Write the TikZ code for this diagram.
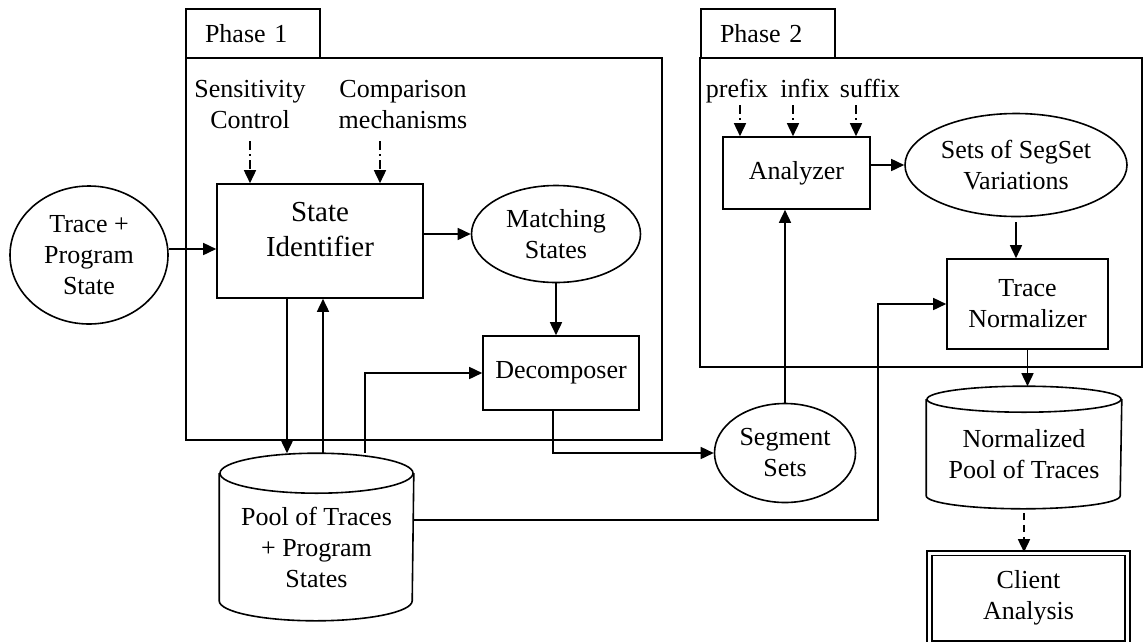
\documentclass[tikz,border=0pt]{standalone}
\usepackage{fontspec}
\setmainfont{Liberation Serif}
\usetikzlibrary{arrows.meta,shapes.geometric}

% cylinder outline round a node: node, x radius, y radius
\newcommand{\drawstore}[3]{%
  \draw ([yshift=-#3]#1.north) ellipse [x radius=#2, y radius=#3];
  \draw ([yshift=-#3]#1.north west) -- ([yshift=#3]#1.south west)
    arc [start angle=180, end angle=360, x radius=#2, y radius=#3]
    -- ([yshift=-#3]#1.north east);}

\begin{document}
\begin{tikzpicture}[x=1pt, y=-1pt, line width=1.6pt,
    every node/.style={font=\fontsize{26}{31}\selectfont, align=center, inner sep=0pt},
    box/.style={draw, rectangle},
    tab/.style={draw, rectangle, minimum width=134pt, minimum height=49pt, text width=96pt, align=left},
    blob/.style={draw, ellipse},
    store/.style={rectangle},
    arr/.style={-{Triangle[length=13pt,width=12pt]}},
    hint/.style={arr, dash pattern=on 9pt off 4pt on 2pt off 4pt},
    dasharr/.style={arr, dash pattern=on 7pt off 5pt}
]
  \useasboundingbox (0,0) rectangle (1144,641);

  % Phase frames
  \node[tab] (tabA) at (253,33.5) {Phase 1};
  \node[draw, minimum width=476pt, minimum height=382pt] (phaseA) at (424,249) {};
  \node[tab] (tabB) at (768,33.5) {Phase 2};
  \node[draw, minimum width=442pt, minimum height=309pt] (phaseB) at (921,212.5) {};

  % Phase 1
  \node[blob, minimum width=158pt, minimum height=138pt] (trace) at (89,255) {Trace +\\Program\\State};
  \node[box, minimum width=206pt, minimum height=114pt] (stateid) at (320,241) {};
  \node[anchor=north, font=\fontsize{29}{35}\selectfont] (stateidtext) at ([yshift=-18pt]stateid.north) {State\\Identifier};
  \node (sens) at (250,105) {Sensitivity\\Control};
  \node (comp) at (403,105) {Comparison\\mechanisms};
  \node[blob, minimum width=169pt, minimum height=97pt] (match) at (556,234) {Matching\\States};
  \node[box, minimum width=156pt, minimum height=74pt] (decomp) at (561,373) {Decomposer};
  \node[store, minimum width=193pt, minimum height=166pt] (pool) at (316.5,537) {};
  \node (pooltext) at (316.5,547) {Pool of Traces\\+ Program\\States};
  \drawstore{pool}{96.5pt}{20pt}
  \node[blob, minimum width=141pt, minimum height=99pt] (segsets) at (785,453) {Segment\\Sets};

  % Phase 2
  \node[anchor=base] (prefix) at (737,97) {prefix};
  \node[anchor=base] (infix) at (805,97) {infix};
  \node[anchor=base] (suffix) at (870,97) {suffix};
  \node[box, minimum width=147pt, minimum height=72pt] (analyzer) at (796.5,173) {Analyzer};
  \node[blob, minimum width=222pt, minimum height=103pt] (variations) at (1016,165) {Sets of SegSet\\Variations};
  \node[box, minimum width=161pt, minimum height=90pt] (normalizer) at (1027.5,304) {Trace\\Normalizer};
  \node[store, minimum width=194pt, minimum height=121pt] (normpool) at (1024,447.5) {};
  \node (normpooltext) at (1024,454) {Normalized\\Pool of Traces};
  \drawstore{normpool}{97pt}{13pt}
  \node[box, double, double distance=3pt, minimum width=198pt, minimum height=90pt] (client) at (1028.5,598) {Client\\Analysis};

  % Connectors
  \draw[arr] ([yshift=6pt]trace.east) -- ([yshift=6pt]trace.east -| stateid.west);
  \draw[hint] ([yshift=-11pt]sens.south) -- (sens.south |- stateid.north);
  \draw[hint] ([shift={(-23pt,-11pt)}]comp.south) -- ([xshift=-23pt]comp.south |- stateid.north);
  \draw[arr] (match.west -| stateid.east) -- (match.west);
  \draw[arr] (match.south) -- (match.south |- decomp.north);
  \draw[arr] ([xshift=-33pt]stateid.south) -- ([xshift=-33pt]stateid.south |- pool.north);
  \draw[arr] ([xshift=3pt]stateid.south |- pool.north) -- ([xshift=3pt]stateid.south);
  \draw[arr] ([xshift=48.5pt]pool.north) |- (decomp.west);
  \draw[arr] ([xshift=-8pt]decomp.south) |- (segsets.west);
  \draw[arr] (segsets.north) -- (segsets.north |- analyzer.south);
  \draw[hint] ([shift={(3pt,-8pt)}]prefix.base) -- ([xshift=3pt]prefix.base |- analyzer.north);
  \draw[hint] ([shift={(-12pt,-8pt)}]infix.base) -- ([xshift=-12pt]infix.base |- analyzer.north);
  \draw[hint] ([shift={(-14pt,-8pt)}]suffix.base) -- ([xshift=-14pt]suffix.base |- analyzer.north);
  \draw[arr] (variations.west -| analyzer.east) -- (variations.west);
  \draw[arr] ([yshift=-5pt]variations.south) -- (variations.south |- normalizer.north);
  \draw[arr] (normalizer.south) -- (normalizer.south |- normpool.north);
  \draw[arr] ([yshift=17pt]pool.east) -- ++(464,0) |- (normalizer.west);
  \draw[dasharr] ([yshift=-4pt]normpool.south) -- (normpool.south |- client.north);

\end{tikzpicture}
\end{document}
